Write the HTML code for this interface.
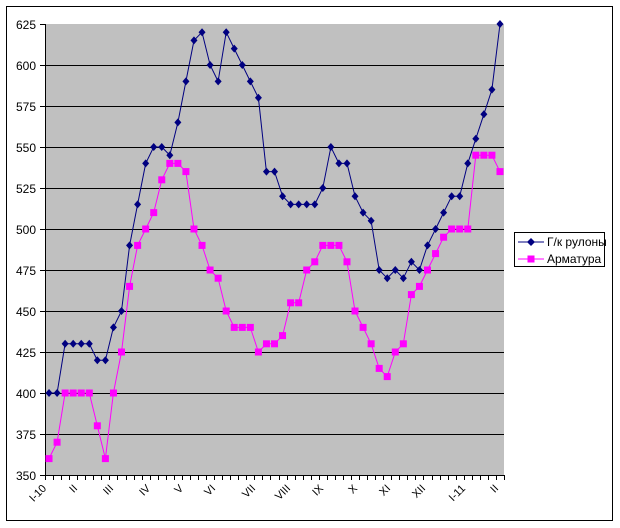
<!DOCTYPE html>
<html><head><meta charset="utf-8"><style>
html,body{margin:0;padding:0;background:#fff;}
svg{display:block;font-family:"Liberation Sans",Arial,sans-serif;}
</style></head><body>
<svg id="s" width="620" height="528" xmlns="http://www.w3.org/2000/svg">
<rect x="6.5" y="6.5" width="606" height="514" fill="#fff" stroke="#000" stroke-width="1"/>
<rect x="45" y="24" width="459" height="451" fill="#c0c0c0"/>
<g id="grid" stroke="#000" stroke-width="1"></g>
<g font-size="12" text-anchor="end" fill="#000">
<text x="36" y="29">625</text><text x="36" y="70">600</text><text x="36" y="111">575</text>
<text x="36" y="152">550</text><text x="36" y="193">525</text><text x="36" y="234">500</text>
<text x="36" y="275">475</text><text x="36" y="316">450</text><text x="36" y="357">425</text>
<text x="36" y="398">400</text><text x="36" y="439">375</text><text x="36" y="480">350</text>
</g>
<g font-size="11" text-anchor="end" fill="#000">
<text transform="translate(47,489) rotate(-45)">I-10</text>
<text transform="translate(78,489) rotate(-45)">II</text>
<text transform="translate(114,489) rotate(-45)">III</text>
<text transform="translate(151,489) rotate(-45)">IV</text>
<text transform="translate(184,489) rotate(-45)">V</text>
<text transform="translate(216,489) rotate(-45)">VI</text>
<text transform="translate(256,489) rotate(-45)">VII</text>
<text transform="translate(291,489) rotate(-45)">VIII</text>
<text transform="translate(324,489) rotate(-45)">IX</text>
<text transform="translate(358,489) rotate(-45)">X</text>
<text transform="translate(391,489) rotate(-45)">XI</text>
<text transform="translate(426,489) rotate(-45)">XII</text>
<text transform="translate(466,489) rotate(-45)">I-11</text>
<text transform="translate(499,489) rotate(-45)">II</text>
</g>
<g id="series"></g>
<rect x="514.5" y="232.5" width="90" height="34" fill="#fff" stroke="#000"/>
<line x1="518" y1="242" x2="544" y2="242" stroke="#000080"/>
<polygon points="531,238 535,242 531,246 527,242" fill="#000080"/>
<text x="547" y="246" font-size="12">Г/к рулоны</text>
<line x1="518" y1="259" x2="544" y2="259" stroke="#ff00ff"/>
<rect x="527.5" y="255.5" width="7" height="7" fill="#ff00ff"/>
<text x="547" y="263" font-size="12">Арматура</text>
</svg>
<script>
var B=[400,400,430,430,430,430,420,420,440,450,490,515,540,550,550,545,565,590,615,620,600,590,620,610,600,590,580,535,535,520,515,515,515,515,525,550,540,540,520,510,505,475,470,475,470,480,475,490,500,510,520,520,540,555,570,585,625];
var P=[360,370,400,400,400,400,380,360,400,425,465,490,500,510,530,540,540,535,500,490,475,470,450,440,440,440,425,430,430,435,455,455,475,480,490,490,490,480,450,440,430,415,410,425,430,460,465,475,485,495,500,500,500,545,545,545,535];
var ns="http://www.w3.org/2000/svg";
function el(t,a,p){var e=document.createElementNS(ns,t);for(var k in a)e.setAttribute(k,a[k]);p.appendChild(e);return e;}
var g=document.getElementById('grid');
for(var v=375;v<=600;v+=25){var y=24+(625-v)*1.64;el('line',{x1:45,x2:504,y1:y+0.5,y2:y+0.5},g);}
el('line',{x1:45.5,x2:45.5,y1:24,y2:475},g);
for(var v=350;v<=625;v+=25){var y=24+(625-v)*1.64;el('line',{x1:40,x2:45,y1:y+0.5,y2:y+0.5},g);}
el('line',{x1:45,x2:504,y1:475.5,y2:475.5},g);
var w=459/57;
for(var i=0;i<=57;i++){var x=Math.round(45+i*w)+0.5;el('line',{x1:x,x2:x,y1:475,y2:480},g);}
var s=document.getElementById('series');
function X(i){return 45+w*(i+0.5);}function Y(v){return 24+(625-v)*1.64;}
function pl(d,c){var p=d.map(function(v,i){return X(i).toFixed(1)+','+Y(v).toFixed(1)}).join(' ');el('polyline',{points:p,fill:'none',stroke:c,'stroke-width':1},s);}
pl(P,'#ff00ff');pl(B,'#000080');
P.forEach(function(v,i){el('rect',{x:X(i)-3.5,y:Y(v)-3.5,width:7,height:7,fill:'#ff00ff'},s);});
B.forEach(function(v,i){var x=X(i),y=Y(v);el('polygon',{points:x+','+(y-4)+' '+(x+3.5)+','+y+' '+x+','+(y+4)+' '+(x-3.5)+','+y,fill:'#000080'},s);});
</script>
</body></html>
